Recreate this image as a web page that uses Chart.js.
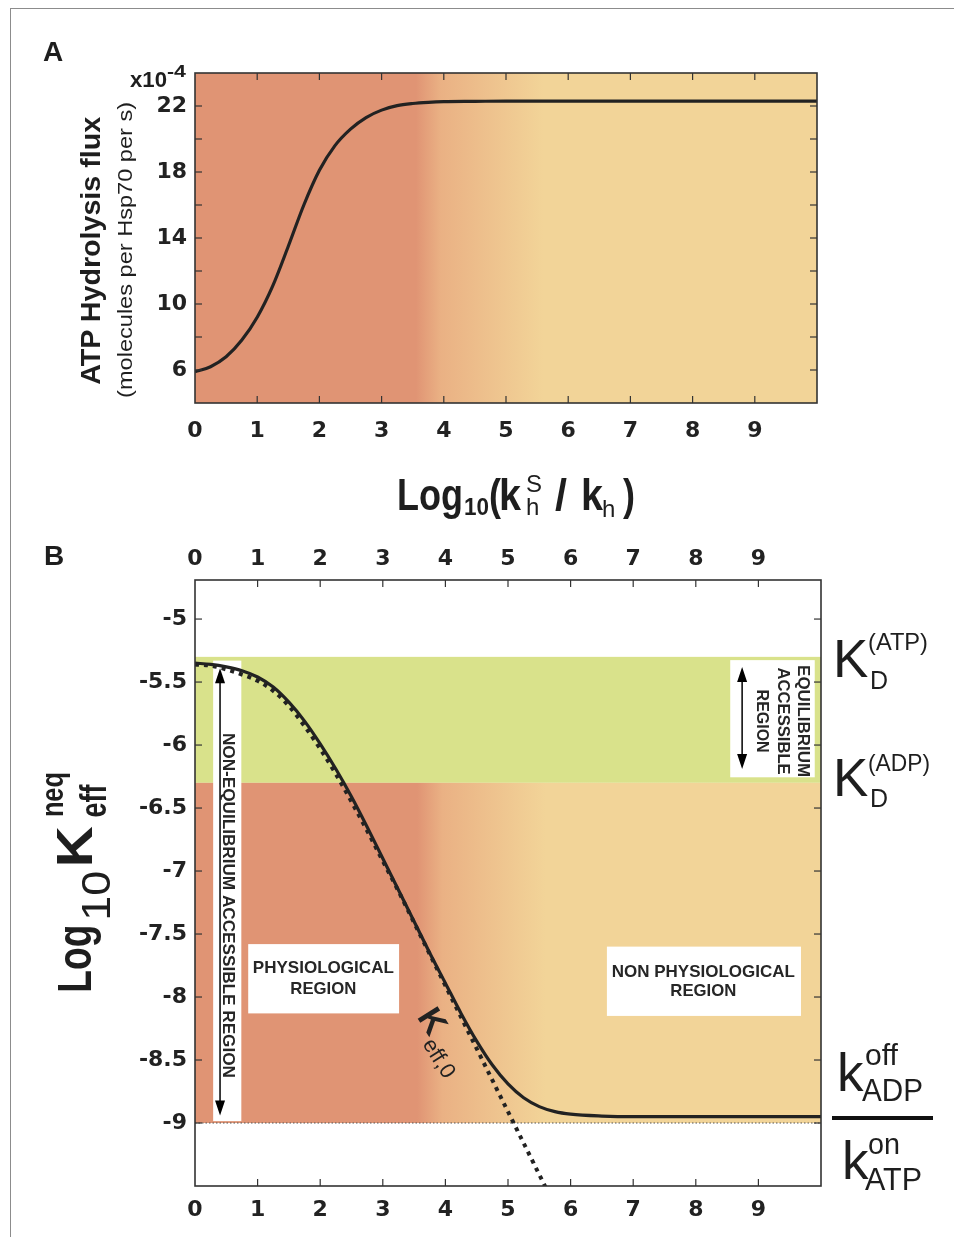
<!DOCTYPE html>
<html>
<head>
<meta charset="utf-8">
<script src="https://cdn.jsdelivr.net/npm/chart.js@4.4.1/dist/chart.umd.min.js"></script>
<style>
  html, body { margin: 0; padding: 0; background: #fff; }
  body { width: 954px; height: 1237px; position: relative; overflow: hidden; }
  canvas { position: absolute; left: 0; }
  #chartA { top: 0; }
  #chartB { top: 480px; }
  .frame { position: absolute; left: 10px; top: 8px; width: 944px; height: 1229px;
           border-top: 1px solid #8c8c8c; border-left: 1px solid #8c8c8c; }
  .bar { position: absolute; left: 832px; top: 1116px; width: 101px; height: 4px; background: #111; }
  .lbl { position: absolute; white-space: pre; color: #1e1e1e; margin: 0; padding: 0; }
</style>
</head>
<body>
<div class="frame"></div>
<canvas id="chartA" width="954" height="480"></canvas>
<canvas id="chartB" width="954" height="757"></canvas>
<div class="bar"></div>
<script>
// Panel A: ATP hydrolysis flux (x10^-4 molecules per Hsp70 per s)
const logRatioA = [0, 0.25, 0.5, 0.75, 1, 1.25, 1.5, 1.75, 2, 2.25, 2.5, 2.75, 3, 3.25, 3.5, 3.75, 4, 4.5, 5, 6, 7, 8, 9, 10];
const atpFlux = [5.9, 6.2, 6.8, 7.8, 9.2, 11.1, 13.5, 16.0, 18.1, 19.6, 20.6, 21.3, 21.75, 22.02, 22.15, 22.22, 22.26, 22.28, 22.3, 22.3, 22.3, 22.3, 22.3, 22.3];
const fluxTicks = [6, 10, 14, 18, 22];

// Panel B: log10 K_eff^neq (solid) and K_eff,0 (dotted)
const logRatioB = [0, 0.25, 0.5, 0.75, 1, 1.25, 1.5, 1.75, 2, 2.25, 2.5, 2.75, 3, 3.25, 3.5, 3.75, 4, 4.25, 4.5, 4.75, 5, 5.25, 5.5, 5.75, 6, 6.5, 7, 8, 9, 10];
const keffNeq = [-5.35, -5.36, -5.38, -5.41, -5.46, -5.54, -5.66, -5.81, -5.99, -6.19, -6.41, -6.65, -6.90, -7.15, -7.40, -7.65, -7.89, -8.13, -8.35, -8.54, -8.69, -8.80, -8.87, -8.91, -8.93, -8.945, -8.95, -8.95, -8.95, -8.95];
const keff0 = [-5.36, -5.37, -5.40, -5.44, -5.49, -5.57, -5.69, -5.85, -6.03, -6.23, -6.45, -6.68, -6.92, -7.16, -7.41, -7.66, -7.91, -8.16, -8.41, -8.66, -8.91, -9.16, -9.41, -9.66];
const keffTicks = [-5, -5.5, -6, -6.5, -7, -7.5, -8, -8.5, -9];

const xTicks = [0, 1, 2, 3, 4, 5, 6, 7, 8, 9];

// reference levels in panel B
const kdATP = -5.3, kdADP = -6.3, kOffOn = -9;

const FONT = "'Liberation Sans', Arial, Helvetica, sans-serif";
const TICK_FONT = "'DejaVu Sans', 'Liberation Sans', sans-serif";
const INK = '#222';
const SALMON = 'rgb(224,148,116)', MIDTONE = 'rgb(234,177,132)', TAN = 'rgb(242,212,152)', GREEN = 'rgb(217,226,139)';
const shadeAt = [3.55, 3.95, 5.6];

function shade(ctx, x) {
    const g = ctx.createLinearGradient(x.getPixelForValue(0), 0, x.getPixelForValue(10), 0);
    g.addColorStop(0, SALMON);
    g.addColorStop(shadeAt[0] / 10, SALMON);
    g.addColorStop(shadeAt[1] / 10, MIDTONE);
    g.addColorStop(shadeAt[2] / 10, TAN);
    g.addColorStop(1, TAN);
    return g;
}

// ticks drawn inside the frame, on all four sides
const innerTicks = {
    id: 'innerTicks',
    afterDraw(chart) {
        const { ctx, chartArea: a, scales } = chart;
        const seg = (x0, y0, x1, y1) => { ctx.beginPath(); ctx.moveTo(x0, y0); ctx.lineTo(x1, y1); ctx.stroke(); };
        ctx.save();
        ctx.strokeStyle = '#333';
        ctx.lineWidth = 1.2;
        scales.x.ticks.forEach(t => {
            const p = scales.x.getPixelForValue(t.value);
            if (p <= a.left + 1 || p >= a.right - 1) return;
            seg(p, a.bottom, p, a.bottom - 7);
            seg(p, a.top, p, a.top + 7);
        });
        scales.y.ticks.forEach(t => {
            const p = scales.y.getPixelForValue(t.value);
            if (p <= a.top + 1 || p >= a.bottom - 1) return;
            seg(a.left, p, a.left + 7, p);
            seg(a.right, p, a.right - 7, p);
        });
        ctx.lineWidth = 1.6;
        ctx.strokeRect(a.left, a.top, a.width, a.height);
        ctx.restore();
    }
};

const backgroundA = {
    id: 'backgroundA',
    beforeDatasetsDraw(chart) {
        const { ctx, chartArea: a, scales: { x } } = chart;
        ctx.save();
        ctx.fillStyle = shade(ctx, x);
        ctx.fillRect(a.left, a.top, a.width, a.height);
        ctx.restore();
    }
};

// white label boxes and their texts, in data units
const boxesB = [
    { x0: 0.29, x1: 0.74, y0: -5.33, y1: -8.985 },
    { x0: 0.85, x1: 3.26, y0: -7.58, y1: -8.13 },
    { x0: 6.58, x1: 9.68, y0: -7.60, y1: -8.15 },
    { x0: 8.55, x1: 9.90, y0: -5.326, y1: -6.256 }
];
const arrowsB = [
    { x: 0.40, y0: -5.39, y1: -8.94 },
    { x: 8.74, y0: -5.38, y1: -6.19 }
];
const textsB = [
    { t: 'NON-EQUILIBRIUM ACCESSIBLE REGION', x: 0.527, y: -7.273, len: 345, rot: 90 },
    { t: 'EQUILIBRIUM', x: 9.71, y: -5.81, len: 112, rot: 90 },
    { t: 'ACCESSIBLE', x: 9.39, y: -5.81, len: 107, rot: 90 },
    { t: 'REGION', x: 9.05, y: -5.81, len: 63, rot: 90 },
    { t: 'PHYSIOLOGICAL', x: 2.05, y: -7.77, len: 141, rot: 0 },
    { t: 'REGION', x: 2.05, y: -7.94, len: 66, rot: 0 },
    { t: 'NON PHYSIOLOGICAL', x: 8.12, y: -7.80, len: 183, rot: 0 },
    { t: 'REGION', x: 8.12, y: -7.955, len: 66, rot: 0 }
];

function arrow(ctx, x, ya, yb) {
    const h = 15, w = 5;
    ctx.lineWidth = 1.5;
    ctx.strokeStyle = '#000';
    ctx.fillStyle = '#000';
    ctx.beginPath(); ctx.moveTo(x, ya + h - 2); ctx.lineTo(x, yb - h + 2); ctx.stroke();
    ctx.beginPath(); ctx.moveTo(x, ya); ctx.lineTo(x - w, ya + h); ctx.lineTo(x + w, ya + h); ctx.closePath(); ctx.fill();
    ctx.beginPath(); ctx.moveTo(x, yb); ctx.lineTo(x - w, yb - h); ctx.lineTo(x + w, yb - h); ctx.closePath(); ctx.fill();
}

const regionsB = {
    id: 'regionsB',
    beforeDatasetsDraw(chart) {
        const { ctx, chartArea: a, scales: { x, y } } = chart;
        const px = v => x.getPixelForValue(v), py = v => y.getPixelForValue(v);
        ctx.save();
        ctx.fillStyle = GREEN;
        ctx.fillRect(a.left, py(kdATP), a.width, py(kdADP) - py(kdATP));
        ctx.fillStyle = shade(ctx, x);
        ctx.fillRect(a.left, py(kdADP), a.width, py(kOffOn) - py(kdADP));

        ctx.strokeStyle = '#555';
        ctx.lineWidth = 1;
        ctx.setLineDash([1.5, 2]);
        ctx.beginPath(); ctx.moveTo(a.left, py(kOffOn)); ctx.lineTo(a.right, py(kOffOn)); ctx.stroke();
        ctx.setLineDash([]);

        ctx.fillStyle = '#fff';
        boxesB.forEach(b => ctx.fillRect(px(b.x0), py(b.y0), px(b.x1) - px(b.x0), py(b.y1) - py(b.y0)));
        arrowsB.forEach(r => arrow(ctx, px(r.x), py(r.y0), py(r.y1)));

        ctx.fillStyle = '#262626';
        ctx.font = `bold 17px ${FONT}`;
        ctx.textAlign = 'center';
        ctx.textBaseline = 'middle';
        textsB.forEach(s => {
            ctx.save();
            ctx.translate(px(s.x), py(s.y));
            ctx.rotate(s.rot * Math.PI / 180);
            ctx.scale(s.len / ctx.measureText(s.t).width, 1);
            ctx.fillText(s.t, 0, 0);
            ctx.restore();
        });
        ctx.restore();
    },
    afterDatasetsDraw(chart) {
        const { ctx, scales: { x, y } } = chart;
        ctx.save();
        ctx.translate(x.getPixelForValue(3.54), y.getPixelForValue(-8.156));
        ctx.rotate(58 * Math.PI / 180);
        ctx.fillStyle = INK;
        ctx.textBaseline = 'alphabetic';
        ctx.font = `bold 34px ${FONT}`;
        ctx.fillText('K', 0, 0);
        ctx.font = `22px ${FONT}`;
        ctx.fillText('eff,0', 26, 10);
        ctx.restore();
    }
};

const tickFont = { family: TICK_FONT, size: 22, weight: 'bold' };

new Chart(document.getElementById('chartA'), {
    type: 'line',
    data: {
        datasets: [{
            data: logRatioA.map((v, i) => ({ x: v, y: atpFlux[i] })),
            borderColor: INK,
            borderWidth: 3.2,
            pointRadius: 0,
            cubicInterpolationMode: 'monotone',
            fill: false
        }]
    },
    options: {
        responsive: false,
        animation: false,
        events: [],
        layout: { padding: { top: 73, right: 137, left: 0, bottom: 0 } },
        plugins: { legend: { display: false }, tooltip: { enabled: false } },
        scales: {
            x: {
                type: 'linear', min: 0, max: 10,
                border: { display: false },
                grid: { display: false, drawTicks: false },
                ticks: { stepSize: 1, autoSkip: false, maxRotation: 0, padding: 15, color: INK, font: tickFont,
                         callback: v => xTicks.includes(v) ? String(v) : '' },
                afterFit: s => { s.height = 77; }
            },
            y: {
                min: 4, max: 24,
                border: { display: false },
                grid: { display: false, drawTicks: false },
                ticks: { stepSize: 2, autoSkip: false, padding: 8, color: INK, font: tickFont,
                         callback: v => fluxTicks.includes(v) ? String(v) : '' },
                afterFit: s => { s.width = 195; }
            }
        }
    },
    plugins: [backgroundA, innerTicks]
});

new Chart(document.getElementById('chartB'), {
    type: 'line',
    data: {
        datasets: [{
            data: keff0.map((v, i) => ({ x: logRatioB[i], y: v })),
            borderColor: INK,
            borderWidth: 4,
            borderDash: [4, 5],
            borderCapStyle: 'butt',
            pointRadius: 0,
            cubicInterpolationMode: 'monotone',
            fill: false
        }, {
            data: logRatioB.map((v, i) => ({ x: v, y: keffNeq[i] })),
            borderColor: INK,
            borderWidth: 3.2,
            pointRadius: 0,
            cubicInterpolationMode: 'monotone',
            fill: false
        }]
    },
    options: {
        responsive: false,
        animation: false,
        events: [],
        layout: { padding: { top: 0, right: 133, left: 0, bottom: 0 } },
        plugins: { legend: { display: false }, tooltip: { enabled: false } },
        scales: {
            x: {
                type: 'linear', position: 'bottom', min: 0, max: 10,
                border: { display: false },
                grid: { display: false, drawTicks: false },
                ticks: { stepSize: 1, autoSkip: false, maxRotation: 0, padding: 11, color: INK, font: tickFont,
                         callback: v => xTicks.includes(v) ? String(v) : '' },
                afterFit: s => { s.height = 51; }
            },
            x2: {
                type: 'linear', position: 'top', min: 0, max: 10,
                border: { display: false },
                grid: { display: false, drawTicks: false },
                ticks: { stepSize: 1, autoSkip: false, maxRotation: 0, padding: 8, color: INK, font: tickFont,
                         callback: v => xTicks.includes(v) ? String(v) : '' },
                afterFit: s => { s.height = 100; }
            },
            y: {
                min: -9.5, max: -4.69,
                border: { display: false },
                grid: { display: false, drawTicks: false },
                ticks: { stepSize: 0.5, autoSkip: false, padding: 8, color: INK, font: tickFont,
                         callback: v => keffTicks.includes(Math.round(v * 10) / 10) ? String(Math.round(v * 10) / 10) : '' },
                afterFit: s => { s.width = 195; }
            }
        }
    },
    plugins: [regionsB, innerTicks]
});

// titles and side labels, placed by baseline start (x, y)
function put(text, weight, size, x, y, rot = 0, len = 0) {
    const s = document.createElement('span');
    s.className = 'lbl';
    s.textContent = text;
    s.style.font = `${weight} ${size}px ${FONT}`;
    s.style.lineHeight = size + 'px';
    const base = size * 0.8465;
    s.style.left = x + 'px';
    s.style.top = (y - base) + 'px';
    s.style.transformOrigin = `0px ${base}px`;
    document.body.appendChild(s);
    const sx = len ? len / s.getBoundingClientRect().width : 1;
    s.style.transform = `rotate(${rot}deg) scaleX(${sx})`;
}

put('A', 'bold', 28, 43, 62);
put('B', 'bold', 28, 44, 566);
put('x10', 'bold', 22, 130, 88, 0, 37);
put('-4', 'bold', 16, 167, 78, 0, 19);

put('ATP Hydrolysis flux', 'bold', 27, 101, 385, -90, 268);
put('(molecules per Hsp70 per s)', 'normal', 20, 132, 398, -90, 296);

put('Log', 'bold', 44, 397, 510, 0, 66);
put('10', 'bold', 24, 464, 515, 0, 25);
put('(', 'bold', 44, 489, 510, 0, 12);
put('k', 'bold', 44, 499, 510, 0, 22);
put('S', 'normal', 24, 526, 492);
put('h', 'normal', 24, 526, 515);
put('/', 'bold', 44, 555, 510, 0, 12);
put('k', 'bold', 44, 581, 510, 0, 22);
put('h', 'normal', 24, 602, 517);
put(')', 'bold', 44, 623, 510, 0, 12);

put('Log', 'bold', 48, 92, 993, -90, 68);
put('10', 'normal', 40, 110, 921, -90, 50);
put('K', 'bold', 50, 92, 867, -90, 41);
put('neq', 'bold', 32, 63, 817, -90, 45);
put('eff', 'bold', 36, 106, 817, -90, 33);

put('K', 'normal', 53, 833, 677);
put('(ATP)', 'normal', 24, 868, 650, 0, 60);
put('D', 'normal', 25, 870, 689);
put('K', 'normal', 53, 833, 796);
put('(ADP)', 'normal', 24, 868, 771, 0, 62);
put('D', 'normal', 25, 870, 807);
put('k', 'normal', 53, 837, 1091);
put('off', 'normal', 29, 865, 1066, 0, 33);
put('ADP', 'normal', 32, 862, 1101, 0, 61);
put('k', 'normal', 53, 842, 1179);
put('on', 'normal', 30, 868, 1154, 0, 32);
put('ATP', 'normal', 32, 865, 1190, 0, 57);
</script>
</body>
</html>
